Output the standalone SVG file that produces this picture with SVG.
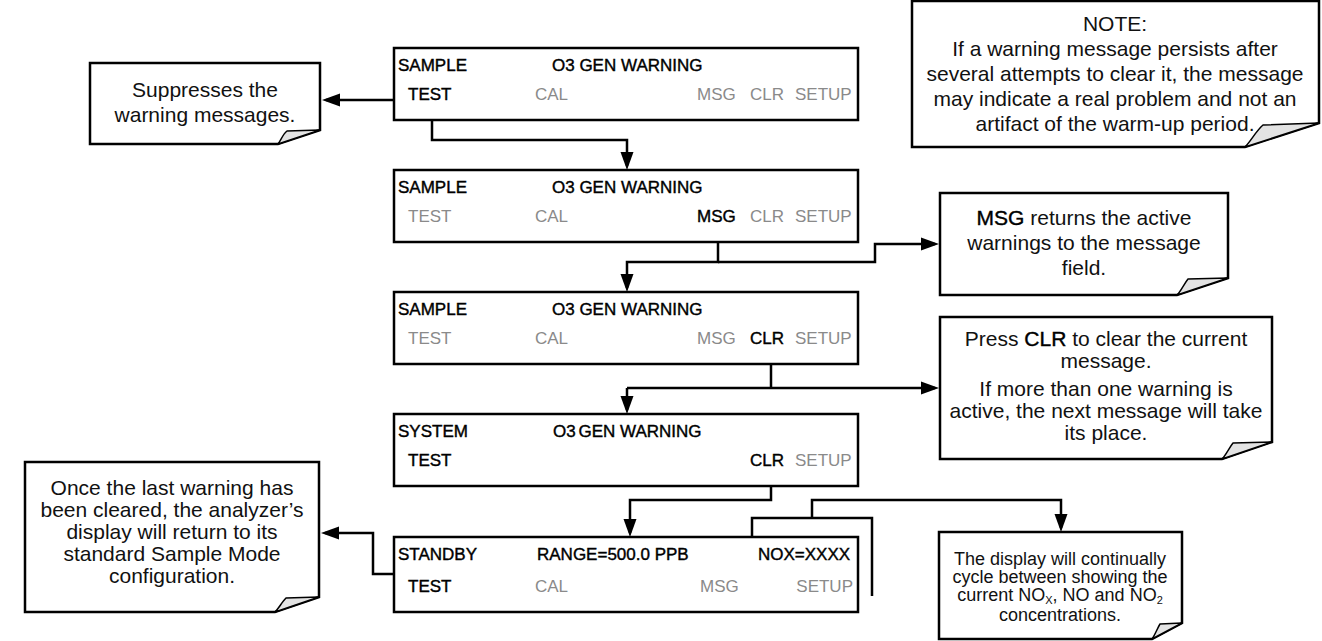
<svg xmlns="http://www.w3.org/2000/svg" width="1322" height="641" viewBox="0 0 1322 641">
<defs>
<marker id="ah" markerUnits="userSpaceOnUse" markerWidth="18" markerHeight="14" refX="14" refY="7" orient="auto"><path d="M0,0.5 L18,7 L0,13.5 Z" fill="#000"/></marker>
</defs>
<style>
.pn{fill:#fff;stroke:#000;stroke-width:2.5}
.t{font-family:"Liberation Sans",Arial,sans-serif;font-size:17px}
.k{fill:#000;stroke:#000;stroke-width:0.4}
.g{fill:#8a8a8a}
.cb{fill:#fff;stroke:#000;stroke-width:2.5;stroke-linejoin:miter}
.fold{fill:#e3e3e3;stroke:#000;stroke-width:1.5;stroke-linejoin:round}
.ct{font-family:"Liberation Sans",Arial,sans-serif;font-size:21px;fill:#111;text-anchor:middle}
.s18{font-size:18px}
.ln{fill:none;stroke:#000;stroke-width:2.5}
.arr{marker-end:url(#ah)}
</style>
<rect width="1322" height="641" fill="#fff"/>

<g id="connectors">
<path class="ln arr" d="M394,100 H326"/>
<path class="ln arr" d="M432,104 V140 H627 V166"/>
<path class="ln arr" d="M718,226 V262 H627 V288"/>
<path class="ln arr" d="M718,262 H875 V244 H935"/>
<path class="ln" d="M771,348 V388"/>
<path class="ln arr" d="M627,388 H935"/>
<path class="ln arr" d="M627,388 V410"/>
<path class="ln arr" d="M771,470 V500 H630 V533"/>
<path class="ln" d="M752,578 V518 H872 V596"/>
<path class="ln arr" d="M812,518 V500 H1061 V528"/>
<path class="ln arr" d="M394,574 H373 V533 H325"/>
</g>

<g id="panel1">
<rect class="pn" x="394" y="48" width="464" height="72"/>
<text class="t k" x="398" y="71">SAMPLE</text>
<text class="t k" x="552" y="71">O3 GEN WARNING</text>
<text class="t k" x="408" y="100">TEST</text>
<text class="t g" x="535" y="100">CAL</text>
<text class="t g" x="697" y="100">MSG</text>
<text class="t g" x="750" y="100">CLR</text>
<text class="t g" x="795" y="100">SETUP</text>
</g>

<g id="panel2">
<rect class="pn" x="394" y="170" width="464" height="72"/>
<text class="t k" x="398" y="193">SAMPLE</text>
<text class="t k" x="552" y="193">O3 GEN WARNING</text>
<text class="t g" x="408" y="222">TEST</text>
<text class="t g" x="535" y="222">CAL</text>
<text class="t k" x="697" y="222">MSG</text>
<text class="t g" x="750" y="222">CLR</text>
<text class="t g" x="795" y="222">SETUP</text>
</g>

<g id="panel3">
<rect class="pn" x="394" y="292" width="464" height="72"/>
<text class="t k" x="398" y="315">SAMPLE</text>
<text class="t k" x="552" y="315">O3 GEN WARNING</text>
<text class="t g" x="408" y="344">TEST</text>
<text class="t g" x="535" y="344">CAL</text>
<text class="t g" x="697" y="344">MSG</text>
<text class="t k" x="750" y="344">CLR</text>
<text class="t g" x="795" y="344">SETUP</text>
</g>

<g id="panel4">
<rect class="pn" x="394" y="414" width="464" height="72"/>
<text class="t k" x="398" y="437">SYSTEM</text>
<text class="t k" x="553" y="437">O3<tspan dx="-2"> GEN WARNING</tspan></text>
<text class="t k" x="408" y="466">TEST</text>
<text class="t k" x="750" y="466">CLR</text>
<text class="t g" x="795" y="466">SETUP</text>
</g>

<g id="panel5">
<rect class="pn" x="394" y="537" width="464" height="75"/>
<text class="t k" x="398" y="560">STANDBY</text>
<text class="t k" x="537" y="560">RANGE=500.0 PPB</text>
<text class="t k" x="758" y="560">NOX=XXXX</text>
<text class="t k" x="408" y="592">TEST</text>
<text class="t g" x="535" y="592">CAL</text>
<text class="t g" x="700" y="592">MSG</text>
<text class="t g" x="853" y="592" text-anchor="end">SETUP</text>
</g>

<g id="note-suppress">
<path class="cb" d="M90,63 H320 V130 L278,144 H90 Z"/>
<path class="fold" d="M278,144 C281,140 283,134 287,131 L320,130 Z"/>
<text class="ct" x="205" y="97">Suppresses the</text>
<text class="ct" x="205" y="122">warning messages.</text>
</g>

<g id="note-warning">
<path class="cb" d="M912,1 H1319 V123 L1245,147 H912 Z"/>
<path class="fold" d="M1245,147 C1251,141 1256,131 1263,125 L1319,123 Z"/>
<text class="ct" x="1115" y="31">NOTE:</text>
<text class="ct" x="1115" y="56">If a warning message persists after</text>
<text class="ct" x="1115" y="81">several attempts to clear it, the message</text>
<text class="ct" x="1115" y="106">may indicate a real problem and not an</text>
<text class="ct" x="1115" y="131">artifact of the warm-up period.</text>
</g>

<g id="note-msg">
<path class="cb" d="M940,193 H1228 V278 L1177,295 H940 Z"/>
<path class="fold" d="M1177,295 C1181,291 1184,284 1188,279 L1228,278 Z"/>
<text class="ct" x="1084" y="225"><tspan class="k">MSG</tspan> returns the active</text>
<text class="ct" x="1084" y="250">warnings to the message</text>
<text class="ct" x="1084" y="275">field.</text>
</g>

<g id="note-clr">
<path class="cb" d="M940,317 H1272 V442 L1222,459 H940 Z"/>
<path class="fold" d="M1222,459 C1226,455 1229,448 1233,443 L1272,442 Z"/>
<text class="ct" x="1106" y="346">Press <tspan class="k">CLR</tspan> to clear the current</text>
<text class="ct" x="1106" y="368">message.</text>
<text class="ct" x="1106" y="396">If more than one warning is</text>
<text class="ct" x="1106" y="418">active, the next message will take</text>
<text class="ct" x="1106" y="440">its place.</text>
</g>

<g id="note-standby">
<path class="cb" d="M25,462 H319 V597 L275,612 H25 Z"/>
<path class="fold" d="M275,612 C279,608 282,602 286,598 L319,597 Z"/>
<text class="ct" x="172" y="495">Once the last warning has</text>
<text class="ct" x="172" y="517">been cleared, the analyzer’s</text>
<text class="ct" x="172" y="539">display will return to its</text>
<text class="ct" x="172" y="561">standard Sample Mode</text>
<text class="ct" x="172" y="583">configuration.</text>
</g>

<g id="note-cycle">
<path class="cb" d="M939,532 H1182 V623 L1152,639 H939 Z"/>
<path class="fold" d="M1152,639 C1155,635 1157,629 1160,624 L1182,623 Z"/>
<text class="ct s18" x="1060" y="565">The display will continually</text>
<text class="ct s18" x="1060" y="583">cycle between showing the</text>
<text class="ct s18" x="1060" y="601">current NO<tspan font-size="11" dy="2.5">X</tspan><tspan dy="-2.5">, NO and NO</tspan><tspan font-size="11" dy="2.5">2</tspan></text>
<text class="ct s18" x="1060" y="621">concentrations.</text>
</g>
</svg>
